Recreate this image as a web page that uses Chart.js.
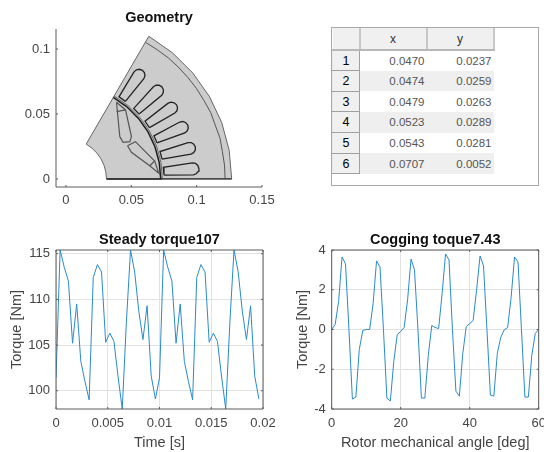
<!DOCTYPE html>
<html>
<head>
<meta charset="utf-8">
<script src="https://cdn.jsdelivr.net/npm/chart.js@4"></script>
<style>
  html, body { margin: 0; padding: 0; background: #fff; }
  body { width: 544px; height: 452px; position: relative; overflow: hidden; font-family: "Liberation Sans", sans-serif; filter: blur(0.4px); }
  canvas { position: absolute; }
  #tableBox { position: absolute; left: 331px; top: 27px; width: 208px; height: 159px; border: 1px solid #a8a8a8; box-sizing: border-box; background: #fff; }
  #dataTable { border-collapse: collapse; table-layout: fixed; width: 161px; }
  #dataTable th, #dataTable td { height: 20.67px; padding: 0; box-sizing: border-box; }
  #dataTable thead th { background: #f0f0f0; font-weight: normal; font-size: 12px; color: #333; height: 22px; border-right: 2px solid #c8c8c8; border-bottom: 2px solid #b8b8b8; }
  #dataTable tbody th { background: #f0f0f0; font-weight: normal; font-size: 12.5px; color: #000; border-right: 1px solid #a0a0a0; border-bottom: 1px solid #a0a0a0; border-left: 1px solid #e8e8e8; }
  #dataTable td { font-size: 11.5px; color: #555; text-align: right; padding-right: 2px; }
  #dataTable tr:nth-child(even) td { background: #efefef; }
</style>
</head>
<body>
<canvas id="geomChart" width="300" height="215" style="left:0;top:0"></canvas>
<div id="tableBox"><table id="dataTable"><thead></thead><tbody></tbody></table></div>
<canvas id="steadyChart" width="300" height="227" style="left:0;top:225px"></canvas>
<canvas id="coggingChart" width="284" height="227" style="left:280px;top:225px"></canvas>
<script>
const tableCols = ['x', 'y'];
const tableX = ['0.0470', '0.0474', '0.0479', '0.0523', '0.0543', '0.0707'];
const tableY = ['0.0237', '0.0259', '0.0263', '0.0289', '0.0281', '0.0052'];

const timeValues = [0, 0.0004, 0.0008, 0.0012, 0.0016, 0.002, 0.0024, 0.0028, 0.0032, 0.0036, 0.004, 0.0044, 0.0048, 0.0052, 0.0056, 0.006, 0.0064, 0.0068, 0.0072, 0.0076, 0.008, 0.0084, 0.0088, 0.0092, 0.0096, 0.01, 0.0104, 0.0108, 0.0112, 0.0116, 0.012, 0.0124, 0.0128, 0.0132, 0.0136, 0.014, 0.0144, 0.0148, 0.0152, 0.0156, 0.016, 0.0164, 0.0168, 0.0172, 0.0176, 0.018, 0.0184, 0.0188, 0.0192, 0.0196];
const steadyTorque = [101.4, 115.4, 113.5, 112, 105.2, 109.5, 103.2, 101, 99, 112.4, 113.8, 113, 105.3, 106.3, 105.4, 101.5, 98, 107.5, 115.4, 113, 108.7, 105.6, 109.3, 101.6, 99.1, 101.4, 115.4, 113.5, 112, 105.2, 109.5, 103.2, 101, 99, 112.4, 113.8, 113, 105.3, 106.3, 105.4, 101.5, 98, 107.5, 115.4, 113, 108.7, 105.6, 109.3, 101.6, 99.1];

const angleValues = [0, 1, 2, 3, 4, 5, 6, 7, 8, 9, 10, 11, 12, 13, 14, 15, 16, 17, 18, 19, 20, 21, 22, 23, 24, 25, 26, 27, 28, 29, 30, 31, 32, 33, 34, 35, 36, 37, 38, 39, 40, 41, 42, 43, 44, 45, 46, 47, 48, 49, 50, 51, 52, 53, 54, 55, 56, 57, 58, 59, 60];
const coggingTorque = [0, 0.25, 1.4, 3.65, 3.3, 0, -3.5, -3.4, -1, -0.05, 0, 0, 1.3, 3.45, 3.15, 0, -3.45, -3.6, -1.6, -0.25, -0.1, 0.1, 1.5, 3.55, 3, 0, -3.45, -3.45, -1.3, 0.2, 0.1, 0.05, 1.8, 3.8, 3.5, 0, -3.1, -3.35, -1.2, 0.15, 0.3, 0.45, 2, 3.7, 3.2, 0, -3.3, -3.35, -1.2, -0.4, -0.02, 0.1, 1.6, 3.65, 3.4, 0, -3.4, -3.4, -1.3, -0.2, 0];

const geomXTicks = [0, 0.05, 0.1, 0.15];
const geomYTicks = [0, 0.05, 0.1];
const steadyXTicks = [0, 0.005, 0.01, 0.015, 0.02];
const steadyYTicks = [100, 105, 110, 115];
const coggingXTicks = [0, 20, 40, 60];
const coggingYTicks = [-4, -2, 0, 2, 4];

// outlines, [x, y] in metres
const sectorOutline = [[0.031, 0], [0.1268, 0], [0.1249, 0.022], [0.1192, 0.0434], [0.1098, 0.0634], [0.0971, 0.0815], [0.0815, 0.0971], [0.0634, 0.1098], [0.0155, 0.0268], [0.0199, 0.0237], [0.0237, 0.0199], [0.0268, 0.0155], [0.0291, 0.0106], [0.0305, 0.0054], [0.031, 0]];
const backIronLine = [[0.1218, 0], [0.1213, 0.0106], [0.1197, 0.0211], [0.1178, 0.0316], [0.1142, 0.0415], [0.1107, 0.0512], [0.1052, 0.061], [0.0998, 0.0697], [0.0932, 0.0782], [0.0859, 0.0862], [0.0785, 0.093], [0.0698, 0.0995], [0.0608, 0.1052]];
const boreLine = [[0.031, 0], [0.0725, 0], [0.0714, 0.0126], [0.0681, 0.0248], [0.0628, 0.03625], [0.0555, 0.0466], [0.0466, 0.0555], [0.03625, 0.0628]];
const gapLine = [[0.0738, 0], [0.0727, 0.0128], [0.0694, 0.0252], [0.0639, 0.0369], [0.0565, 0.0474], [0.0474, 0.0565], [0.0369, 0.0639]];
const bottomLine = [[0.0725, 0], [0.1268, 0]];
const slot1 = [[0.075, 0.003], [0.0975, 0.0032], [0.0997, 0.004], [0.1013, 0.0058], [0.1017, 0.0082], [0.1009, 0.0104], [0.0991, 0.012], [0.0967, 0.0124], [0.0745, 0.009], [0.075, 0.003]];
const slot2 = [[0.0735, 0.0152], [0.0956, 0.0191], [0.0977, 0.0202], [0.099, 0.0223], [0.099, 0.0247], [0.0978, 0.0268], [0.0958, 0.028], [0.0934, 0.028], [0.072, 0.0211], [0.0735, 0.0152]];
const slot3 = [[0.0697, 0.0278], [0.0909, 0.0354], [0.0927, 0.0369], [0.0936, 0.0391], [0.0932, 0.0415], [0.0917, 0.0433], [0.0895, 0.0442], [0.0871, 0.0438], [0.0673, 0.0332], [0.0697, 0.0278]];
const slot4 = [[0.0639, 0.0395], [0.0833, 0.0507], [0.0849, 0.0524], [0.0854, 0.0548], [0.0846, 0.057], [0.0828, 0.0586], [0.0804, 0.0591], [0.0782, 0.0583], [0.0605, 0.0444], [0.0639, 0.0395]];
const slot5 = [[0.056, 0.0499], [0.0733, 0.0644], [0.0745, 0.0664], [0.0745, 0.0688], [0.0734, 0.0709], [0.0713, 0.0721], [0.0689, 0.0721], [0.0669, 0.071], [0.0519, 0.0543], [0.056, 0.0499]];
const slot6 = [[0.0455, 0.0597], [0.0596, 0.0772], [0.0605, 0.0794], [0.06, 0.0818], [0.0585, 0.0836], [0.0563, 0.0844], [0.0539, 0.084], [0.0521, 0.0824], [0.0406, 0.0632], [0.0455, 0.0597]];
const magnetUpper = [[0.0387, 0.059], [0.0456, 0.0531], [0.0501, 0.0326], [0.0489, 0.0287], [0.0437, 0.0282], [0.0412, 0.0326], [0.0387, 0.059]];
const magnetUpperBar = [[0.0387, 0.0518], [0.0456, 0.0531]];
const magnetLower = [[0.0471, 0.0256], [0.0532, 0.0287], [0.0679, 0.0138], [0.071, 0.0044], [0.0641, 0.0102], [0.0501, 0.0205], [0.0471, 0.0256]];
const magnetLowerBar = [[0.0679, 0.0138], [0.0641, 0.0102]];

const LINE_BLUE = '#2a8acb';
const AXIS_GRAY = '#5a5a5a';
const TEXT_GRAY = '#444';

function toPoints(list) {
  return list.map(p => ({ x: p[0], y: p[1] }));
}

function zip(xs, ys) {
  return xs.map((x, i) => ({ x: x, y: ys[i] }));
}

// matlab style: inward ticks, optional box round the plot
function matlabAxes(box) {
  return {
    id: 'matlabAxes',
    afterDraw(chart) {
      const { ctx, chartArea: a, scales } = chart;
      ctx.save();
      ctx.strokeStyle = AXIS_GRAY;
      ctx.lineWidth = 1;
      ctx.beginPath();
      ctx.moveTo(a.left, a.top);
      ctx.lineTo(a.left, a.bottom);
      ctx.lineTo(a.right, a.bottom);
      if (box) {
        ctx.lineTo(a.right, a.top);
        ctx.lineTo(a.left, a.top);
      }
      scales.x.ticks.forEach(t => {
        const px = scales.x.getPixelForValue(t.value);
        ctx.moveTo(px, a.bottom);
        ctx.lineTo(px, a.bottom - 2);
        if (box) {
          ctx.moveTo(px, a.top);
          ctx.lineTo(px, a.top + 2);
        }
      });
      scales.y.ticks.forEach(t => {
        const py = scales.y.getPixelForValue(t.value);
        ctx.moveTo(a.left, py);
        ctx.lineTo(a.left + 2, py);
        if (box) {
          ctx.moveTo(a.right, py);
          ctx.lineTo(a.right - 2, py);
        }
      });
      ctx.stroke();
      ctx.restore();
    }
  };
}

function axis(cfg) {
  return {
    type: 'linear',
    min: cfg.min,
    max: cfg.max,
    grid: { display: !!cfg.grid, color: '#e2e2e2', lineWidth: 1, drawTicks: false },
    border: { display: false },
    title: cfg.label ? { display: true, text: cfg.label, color: TEXT_GRAY, font: { family: 'Liberation Sans', size: 14.5 }, padding: cfg.labelPadding } : { display: false },
    ticks: {
      autoSkip: false,
      maxRotation: 0,
      padding: cfg.tickPadding,
      color: TEXT_GRAY,
      font: { family: 'Liberation Sans', size: 13 },
      callback: v => String(v)
    },
    afterBuildTicks: s => { s.ticks = cfg.ticks.map(v => ({ value: v })); },
    afterFit: s => {
      if (cfg.width) s.width = cfg.width;
      if (cfg.height) s.height = cfg.height;
    }
  };
}

function titleOpts(text, top, bottom) {
  return {
    display: true,
    text: text,
    fullSize: false,
    color: '#111',
    font: { family: 'Liberation Sans', size: 14.5, weight: 'bold' },
    padding: { top: top, bottom: bottom }
  };
}

function outline(list, color, width, fillColor) {
  return {
    data: toPoints(list),
    showLine: true,
    borderColor: color,
    borderWidth: width,
    backgroundColor: fillColor || 'transparent',
    fill: fillColor ? 'shape' : false,
    pointRadius: 0,
    tension: 0
  };
}

new Chart(document.getElementById('geomChart'), {
  type: 'scatter',
  data: {
    // first dataset is painted last, so the filled sector goes at the end
    datasets: [
      outline(magnetLowerBar, '#555', 1.2),
      outline(magnetLower, '#555', 1.2),
      outline(magnetUpperBar, '#555', 1.2),
      outline(magnetUpper, '#555', 1.2),
      outline(slot6, '#222', 1.3),
      outline(slot5, '#222', 1.3),
      outline(slot4, '#222', 1.3),
      outline(slot3, '#222', 1.3),
      outline(slot2, '#222', 1.3),
      outline(slot1, '#222', 1.3),
      outline(bottomLine, '#333', 1.2),
      outline(boreLine, '#1c1c1c', 1.5),
      outline(gapLine, '#666', 1),
      outline(backIronLine, '#555', 1),
      outline(sectorOutline, '#666', 1, '#cccccc')
    ]
  },
  options: {
    responsive: false,
    animation: false,
    layout: { padding: { right: 38 } },
    plugins: { legend: { display: false }, tooltip: { enabled: false }, title: titleOpts('Geometry', 9.3, 2.3) },
    scales: {
      x: axis({ min: -0.0076, max: 0.15, ticks: geomXTicks, height: 28, tickPadding: 6 }),
      y: axis({ min: -0.0062, max: 0.1154, ticks: geomYTicks, width: 56, tickPadding: 6 })
    }
  },
  plugins: [matlabAxes(false)]
});

function torqueChart(id, points, opts) {
  new Chart(document.getElementById(id), {
    type: 'scatter',
    data: {
      datasets: [{
        data: points,
        showLine: true,
        borderColor: LINE_BLUE,
        borderWidth: 1,
        pointRadius: 0,
        tension: 0
      }]
    },
    options: {
      responsive: false,
      animation: false,
      layout: { padding: { right: opts.right } },
      plugins: { legend: { display: false }, tooltip: { enabled: false }, title: titleOpts(opts.title, 6.3, 1.3) },
      scales: {
        x: axis({ min: opts.xMin, max: opts.xMax, ticks: opts.xTicks, grid: true, height: 43, tickPadding: 7, label: opts.xLabel, labelPadding: { top: 2, bottom: 0 } }),
        y: axis({ min: opts.yMin, max: opts.yMax, ticks: opts.yTicks, grid: true, width: opts.left, tickPadding: 6, label: 'Torque [Nm]', labelPadding: { top: opts.labelInset, bottom: 2 } })
      }
    },
    plugins: [matlabAxes(true)]
  });
}

torqueChart('steadyChart', zip(timeValues, steadyTorque), {
  title: 'Steady torque107',
  xLabel: 'Time [s]',
  xMin: 0, xMax: 0.02, yMin: 98, yMax: 115.4,
  xTicks: steadyXTicks, yTicks: steadyYTicks,
  left: 56, right: 37, labelInset: 8
});

torqueChart('coggingChart', zip(angleValues, coggingTorque), {
  title: 'Cogging toque7.43',
  xLabel: 'Rotor mechanical angle [deg]',
  xMin: 0, xMax: 60, yMin: -4, yMax: 4,
  xTicks: coggingXTicks, yTicks: coggingYTicks,
  left: 51.7, right: 25.3, labelInset: 14
});

const thead = document.querySelector('#dataTable thead');
thead.innerHTML = '<tr><th style="width:27px"></th>' + tableCols.map(c => `<th style="width:67px">${c}</th>`).join('') + '</tr>';
const tbody = document.querySelector('#dataTable tbody');
tableX.forEach((x, i) => {
  const tr = document.createElement('tr');
  tr.innerHTML = `<th>${i + 1}</th><td>${x}</td><td>${tableY[i]}</td>`;
  tbody.appendChild(tr);
});
</script>
</body>
</html>
